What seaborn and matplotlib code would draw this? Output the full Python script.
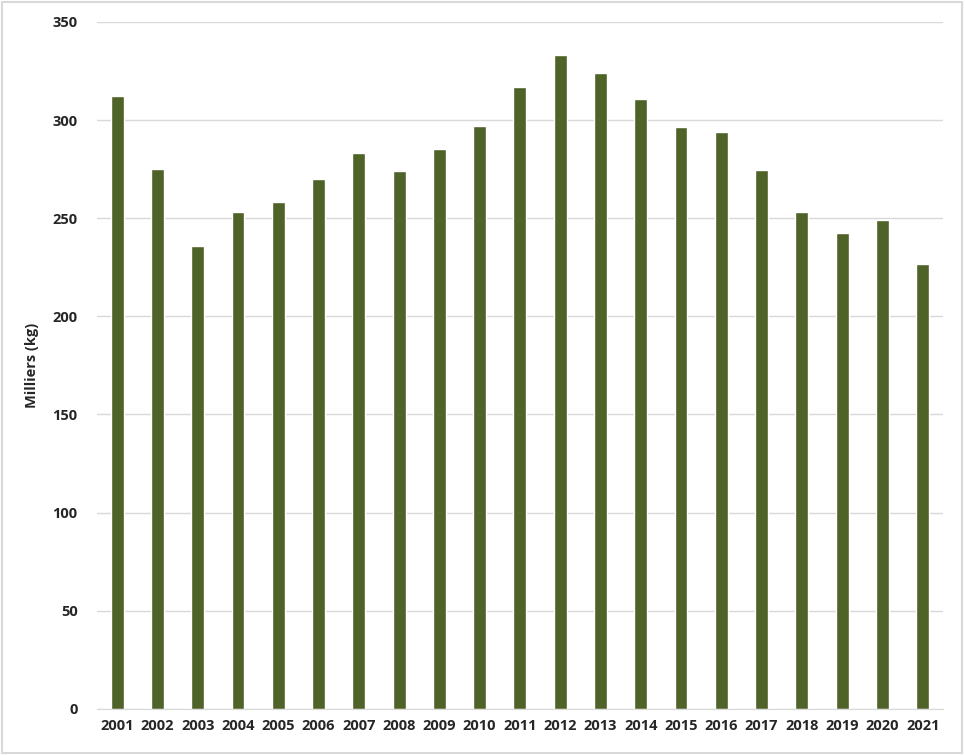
import matplotlib
matplotlib.use('Agg')
import matplotlib.pyplot as plt
import seaborn as sns
import pandas as pd
from matplotlib.patches import Rectangle

# Data
years = [str(y) for y in range(2001, 2022)]
values = [312.5, 275, 236, 253, 258, 270, 283, 274, 285, 297, 317,
          333, 324, 310.5, 296.5, 294, 274.5, 253, 242.5, 249, 226.5]

df = pd.DataFrame({'year': years, 'value': values})

sns.set_style('white')
plt.rcParams['font.family'] = ['Open Sans', 'DejaVu Sans']

fig = plt.figure(figsize=(9.65, 7.55), dpi=100)
ax = fig.add_axes([0.1005, 0.061, 0.8765, 0.91])

sns.barplot(data=df, x='year', y='value', color='#4F6228', width=0.32,
            saturation=1, ax=ax)

ax.set_ylim(0, 350)
ax.set_yticks(range(0, 351, 50))
ax.yaxis.grid(True, color='#D9D9D9', linewidth=1)
ax.set_axisbelow(True)
for s in ['top', 'right', 'left']:
    ax.spines[s].set_visible(False)
ax.spines['bottom'].set_color('#D9D9D9')
ax.tick_params(axis='x', length=0, labelsize=10.5, pad=7)
ax.tick_params(axis='y', length=0, labelsize=10.5, pad=14)
for lab in ax.get_xticklabels() + ax.get_yticklabels():
    lab.set_fontweight('bold')
ax.set_xlabel('')
ax.set_ylabel('Milliers (kg)', fontsize=10.5, fontweight='bold', labelpad=10)
ax.set_xlim(-0.5, len(years) - 0.5)

# light border around the whole figure
fig.patches.append(Rectangle((0.002, 0.003), 0.995, 0.994, transform=fig.transFigure,
                             fill=False, edgecolor='#D9D9D9', linewidth=1.5))

fig.savefig('out.png', dpi=100)
